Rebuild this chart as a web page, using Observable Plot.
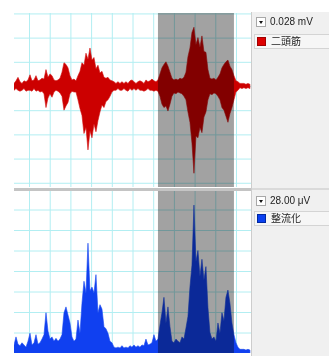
<!DOCTYPE html>
<html><head><meta charset="utf-8">
<script src="https://cdn.jsdelivr.net/npm/d3@7"></script>
<script src="https://cdn.jsdelivr.net/npm/@observablehq/plot@0.6"></script>
<style>
body{margin:0;background:#fff;}
#wrap{position:relative;width:329px;height:356px;overflow:hidden;background:#fff;font-family:"Liberation Sans","DejaVu Sans",sans-serif;}
.panel{position:absolute;left:14px;line-height:0}
#side{position:absolute;left:251px;top:12px;width:78px;height:344px;background:#f0f0f0;border-left:1px solid #cdcdcd;box-sizing:border-box}
#sep{position:absolute;left:14px;top:188px;width:237px;height:3px;background:#c4c4c4;z-index:5}
#sep2{position:absolute;left:252px;top:188px;width:77px;height:2px;background:#dadada;z-index:5}
.dd{position:absolute;left:256px;width:10px;height:10px;background:#fff;border:1px solid #a8a8a8;box-sizing:border-box;z-index:6}
.dd:after{content:"";position:absolute;left:2px;top:3px;border-left:2.5px solid transparent;border-right:2.5px solid transparent;border-top:3px solid #111}
.val{position:absolute;left:270px;font-size:10px;color:#222;z-index:6;white-space:nowrap;line-height:12px}
.row{position:absolute;left:254px;width:75px;height:15px;background:#f6f6f6;border:1px solid #d4d4d4;border-right:none;box-sizing:border-box;z-index:6}
.sw{position:absolute;left:257px;width:9px;height:9px;z-index:7;box-sizing:border-box}
.lab{position:absolute;left:271px;font-size:10px;color:#222;z-index:7;font-family:"Noto Sans CJK JP",sans-serif;line-height:12px;white-space:nowrap}
</style>
</head><body>
<div id="wrap">
  <div id="top" class="panel" style="top:13px"></div>
  <div id="bot" class="panel" style="top:189px"></div>
  <div id="sep"></div>
  <div id="side"></div>
  <div id="sep2"></div>
  <div class="dd" style="top:17px"></div>
  <div class="val" id="v0" style="top:16px"></div>
  <div class="row" style="top:34px"></div>
  <div class="sw" style="top:37px;background:#dd0000;border:1px solid #a00000"></div>
  <div class="lab" id="l0" style="top:35px"></div>
  <div class="dd" style="top:196px"></div>
  <div class="val" id="v1" style="top:195px"></div>
  <div class="row" style="top:211px"></div>
  <div class="sw" style="top:214px;background:#0a40f0;border:1px solid #0028a0"></div>
  <div class="lab" id="l1" style="top:212px"></div>
</div>
<script>
// time axis (s): grid every 1 s
const sampleStart = -0.725;
const sampleStep = 0.0966;
const timeDomain = [-0.725, 10.725];
const selection = [6.23, 9.90];

// channel 1: raw EMG (二頭筋), envelope per sample in µV
const rawHi = [
  3,6,10,5,3,6,5,7,13,6,
  7,12,6,7,9,8,19,10,14,12,
  7,6,7,9,16,27,25,21,12,7,
  8,6,12,17,27,24,38,31,44,30,
  33,20,24,15,17,10,9,10,7,6,
  5,3,5,3,5,3,5,3,6,7,
  5,3,5,6,5,3,7,5,6,8,
  6,5,7,14,21,25,28,23,16,9,
  7,8,7,9,8,10,16,34,44,62,
  68,48,56,45,58,40,39,19,9,8,
  9,7,10,14,21,25,28,30,23,19,
  12,6,5,3,3,3,2,3,2
];
const rawLo = [
  -5,-3,-5,-6,-5,-3,-6,-5,-5,-6,
  -3,-6,-5,-7,-6,-9,-25,-14,-9,-13,
  -7,-5,-6,-8,-12,-28,-23,-19,-9,-6,
  -7,-7,-16,-26,-34,-55,-48,-74,-52,-60,
  -44,-53,-40,-30,-22,-25,-18,-16,-12,-7,
  -5,-5,-3,-5,-5,-3,-5,-6,-3,-5,
  -3,-5,-3,-5,-5,-6,-5,-3,-5,-5,
  -6,-5,-6,-12,-21,-25,-23,-29,-21,-12,
  -8,-9,-7,-8,-9,-12,-16,-30,-42,-66,
  -101,-58,-60,-48,-54,-36,-30,-16,-9,-10,
  -8,-9,-12,-16,-25,-28,-35,-42,-32,-25,
  -16,-7,-5,-2,-3,-2,-3,-2,-3
];
// channel 2: rectified (整流化), µV
const rectified = [
  11,22,12,10,14,11,8,16,27,11,
  14,25,12,14,19,25,55,30,19,22,
  16,20,16,19,25,55,63,52,41,22,
  16,19,45,27,68,98,82,150,85,90,
  82,107,55,66,60,36,33,27,16,14,
  8,7,8,7,10,7,8,7,10,8,
  11,8,10,8,11,10,19,11,12,14,
  25,16,19,38,55,76,41,63,36,16,
  14,19,16,14,22,19,34,50,90,120,
  202,125,140,105,128,100,118,62,28,19,
  22,16,41,27,55,44,76,86,68,41,
  25,14,8,5,5,5,4,5,4
];
const channelNames = ["二頭筋", "整流化"];
const channelScales = ["0.028 mV", "28.00 μV"];
const divisionUV = 28;
const topDomain = [-116.9, 84.5];
const botDomain = [0, 224];

const gridColor = "#b2eef2";
const rawData = rawHi.map((h, i) => ({t: sampleStart + i * sampleStep, hi: h, lo: rawLo[i]}));
const recData = rectified.map((v, i) => ({t: sampleStart + i * sampleStep, v}));
const gridT = d3.range(0, 11);

function selRect(dom) {
  return Plot.rect([selection], {
    x1: d => d[0], x2: d => d[1], y1: () => dom[0], y2: () => dom[1],
    fill: "#a2a2a2", mixBlendMode: "multiply"
  });
}
function fixBlend(svg) {
  svg.querySelectorAll('g[aria-label="rect"]').forEach(g => g.style.mixBlendMode = "multiply");
  return svg;
}

const topPlot = Plot.plot({
  width: 237, height: 174, margin: 0,
  x: {domain: timeDomain, axis: null},
  y: {domain: topDomain, axis: null},
  style: {background: "#fff", overflow: "hidden"},
  marks: [
    Plot.gridX(gridT, {stroke: gridColor, strokeOpacity: 1}),
    Plot.gridY(d3.range(-4 * divisionUV, 3 * divisionUV + 1, divisionUV), {stroke: gridColor, strokeOpacity: 1}),
    Plot.areaY(rawData, {x: "t", y1: "lo", y2: "hi", fill: "#cc0000", stroke: "#d21010", strokeWidth: 0.6}),
    selRect(topDomain)
  ]
});
document.getElementById("top").appendChild(fixBlend(topPlot));

const botPlot = Plot.plot({
  width: 237, height: 164, margin: 0,
  x: {domain: timeDomain, axis: null},
  y: {domain: botDomain, axis: null},
  style: {background: "#fff", overflow: "hidden"},
  marks: [
    Plot.gridX(gridT, {stroke: gridColor, strokeOpacity: 1}),
    Plot.gridY(d3.range(0, 8 * divisionUV + 1, divisionUV), {stroke: gridColor, strokeOpacity: 1}),
    Plot.areaY(recData, {x: "t", y: "v", fill: "#1040f0", stroke: "#1848f0", strokeWidth: 0.6}),
    selRect(botDomain)
  ]
});
document.getElementById("bot").appendChild(fixBlend(botPlot));

document.getElementById("v0").textContent = channelScales[0];
document.getElementById("v1").textContent = channelScales[1];
document.getElementById("l0").textContent = channelNames[0];
document.getElementById("l1").textContent = channelNames[1];
</script>
</body></html>
